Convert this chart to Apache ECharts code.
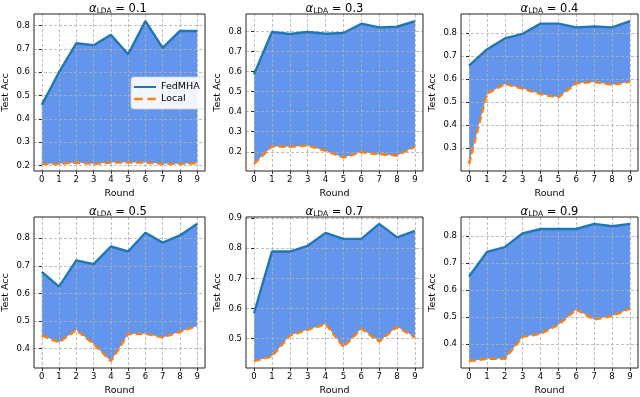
<!DOCTYPE html>
<html>
<head>
<meta charset="utf-8">
<script src="https://cdn.jsdelivr.net/npm/echarts@6/dist/echarts.min.js"></script>
<style>
  html, body { margin: 0; padding: 0; background: #fff; }
  #chart { width: 640px; height: 397px; }
</style>
</head>
<body>
<div id="chart"></div>
<script>
// rounds on the x axis, tick labels too
const rounds = [0, 1, 2, 3, 4, 5, 6, 7, 8, 9]
const alphas = ['0.1', '0.3', '0.4', '0.5', '0.7', '0.9']

// test accuracy
const fedmha01 = [0.460, 0.600, 0.724, 0.716, 0.760, 0.677, 0.819, 0.704, 0.777, 0.777]
const local01 = [0.207, 0.207, 0.213, 0.207, 0.213, 0.213, 0.213, 0.207, 0.207, 0.210]
const fedmha03 = [0.586, 0.797, 0.787, 0.797, 0.788, 0.792, 0.838, 0.820, 0.823, 0.851]
const local03 = [0.140, 0.227, 0.225, 0.231, 0.205, 0.172, 0.198, 0.188, 0.182, 0.225]
const fedmha04 = [0.659, 0.729, 0.777, 0.797, 0.841, 0.841, 0.825, 0.829, 0.825, 0.852]
const local04 = [0.232, 0.537, 0.579, 0.559, 0.535, 0.521, 0.582, 0.588, 0.576, 0.588]
const fedmha05 = [0.678, 0.625, 0.720, 0.706, 0.770, 0.752, 0.820, 0.784, 0.810, 0.852]
const local05 = [0.448, 0.423, 0.468, 0.417, 0.355, 0.453, 0.454, 0.441, 0.461, 0.482]
const fedmha07 = [0.584, 0.789, 0.789, 0.808, 0.851, 0.831, 0.831, 0.881, 0.836, 0.858]
const local07 = [0.425, 0.441, 0.510, 0.529, 0.548, 0.472, 0.533, 0.490, 0.539, 0.504]
const fedmha09 = [0.650, 0.741, 0.759, 0.810, 0.826, 0.826, 0.826, 0.845, 0.836, 0.845]
const local09 = [0.337, 0.346, 0.346, 0.427, 0.438, 0.472, 0.528, 0.491, 0.504, 0.531]

// y tick labels per panel
const yTicks01 = [0.2, 0.3, 0.4, 0.5, 0.6, 0.7, 0.8]
const yTicks03 = [0.2, 0.3, 0.4, 0.5, 0.6, 0.7, 0.8]
const yTicks04 = [0.3, 0.4, 0.5, 0.6, 0.7, 0.8]
const yTicks05 = [0.4, 0.5, 0.6, 0.7, 0.8]
const yTicks07 = [0.5, 0.6, 0.7, 0.8, 0.9]
const yTicks09 = [0.4, 0.5, 0.6, 0.7, 0.8]

const fedList = [fedmha01, fedmha03, fedmha04, fedmha05, fedmha07, fedmha09]
const localList = [local01, local03, local04, local05, local07, local09]
const tickList = [yTicks01, yTicks03, yTicks04, yTicks05, yTicks07, yTicks09]

const FONT = 'DejaVu Sans'
const BLUE = '#1f77b4'
const ORANGE = '#ff7f0e'
const FILL = '#6495ed'

// panel boxes in px: left, top, width, height
const colLeft = [31, 246, 461]
const colWidth = [174, 177, 177]
const rowTop = [14, 217]
const rowHeight = [157, 155]

const chart = echarts.init(document.getElementById('chart'), null, { renderer: 'canvas' })

const grid = []
const xAxis = []
const yAxis = []
const series = []
const title = []

for (let i = 0; i < 6; i++) {
  const col = i % 3
  const row = Math.floor(i / 3)
  const fed = fedList[i]
  const loc = localList[i]
  const all = fed.concat(loc)
  const lo = Math.min(...all)
  const hi = Math.max(...all)
  const pad = (hi - lo) * 0.05 // same margin as matplotlib

  grid.push({
    left: colLeft[col],
    top: rowTop[row],
    width: colWidth[col],
    height: rowHeight[row],
    show: true,
    z: 6,
    borderColor: '#222',
    borderWidth: 1,
    backgroundColor: 'transparent'
  })

  xAxis.push({
    type: 'value',
    gridIndex: i,
    min: -0.45,
    max: 9.45,
    z: 3,
    name: 'Round',
    nameLocation: 'middle',
    nameGap: 18,
    nameTextStyle: { fontFamily: FONT, fontSize: 9.5, color: '#000' },
    axisLine: { show: false },
    axisTick: { show: true, length: 3, inside: false, customValues: rounds, lineStyle: { color: '#000', width: 0.8 } },
    axisLabel: { customValues: rounds, fontFamily: FONT, fontSize: 8.5, color: '#000', margin: 4 },
    splitLine: { show: true, lineStyle: { color: '#b0b0b0', type: [3, 2], width: 0.8 } }
  })

  yAxis.push({
    type: 'value',
    gridIndex: i,
    min: lo - pad,
    max: hi + pad,
    z: 3,
    name: 'Test Acc',
    nameLocation: 'middle',
    nameGap: 23,
    nameRotate: 90,
    nameTextStyle: { fontFamily: FONT, fontSize: 9.5, color: '#000' },
    axisLine: { show: false },
    axisTick: { show: true, length: 3, customValues: tickList[i], lineStyle: { color: '#000', width: 0.8 } },
    axisLabel: {
      customValues: tickList[i],
      fontFamily: FONT, fontSize: 8.5, color: '#000', margin: 4,
      formatter: v => v.toFixed(1)
    },
    splitLine: { show: true, lineStyle: { color: '#b0b0b0', type: [3, 2], width: 0.8 } }
  })

  // blue fill under FedMHA, then white fill under Local: leaves the band between
  series.push({
    name: 'fillTop' + i,
    type: 'line',
    xAxisIndex: i,
    yAxisIndex: i,
    symbol: 'none',
    silent: true,
    z: 1,
    lineStyle: { opacity: 0 },
    areaStyle: { color: FILL, opacity: 1, origin: 'start' },
    data: rounds.map((r, k) => [r, fed[k]])
  })
  series.push({
    name: 'fillLow' + i,
    type: 'line',
    xAxisIndex: i,
    yAxisIndex: i,
    symbol: 'none',
    silent: true,
    z: 2,
    lineStyle: { opacity: 0 },
    areaStyle: { color: '#fff', opacity: 1, origin: 'start' },
    data: rounds.map((r, k) => [r, loc[k]])
  })
  series.push({
    name: 'FedMHA',
    type: 'line',
    xAxisIndex: i,
    yAxisIndex: i,
    symbol: 'none',
    z: 5,
    lineStyle: { color: BLUE, width: 2.4 },
    itemStyle: { color: BLUE },
    data: rounds.map((r, k) => [r, fed[k]])
  })
  series.push({
    name: 'Local',
    type: 'line',
    xAxisIndex: i,
    yAxisIndex: i,
    symbol: 'none',
    z: 5,
    lineStyle: { color: ORANGE, width: 2.4, type: [7, 3.5] },
    itemStyle: { color: ORANGE },
    data: rounds.map((r, k) => [r, loc[k]])
  })

  title.push({
    text: '{a|α}{s|LDA}{t| = ' + alphas[i] + '}',
    left: colLeft[col] + colWidth[col] / 2,
    top: rowTop[row] - 11,
    textAlign: 'center',
    padding: 0,
    textStyle: {
      fontWeight: 'normal',
      rich: {
        a: { fontFamily: FONT, fontSize: 11.5, fontStyle: 'italic', fontWeight: 'normal', color: '#000', lineHeight: 12 },
        s: { fontFamily: FONT, fontSize: 7.5, fontWeight: 'normal', color: '#000', verticalAlign: 'bottom', lineHeight: 8 },
        t: { fontFamily: FONT, fontSize: 11.5, fontWeight: 'normal', color: '#000', lineHeight: 12 }
      }
    }
  })
}

chart.setOption({
  animation: false,
  title: title,
  legend: {
    data: [
      { name: 'FedMHA', icon: 'path://M0,0H22V2H0Z', itemStyle: { color: BLUE } },
      { name: 'Local', icon: 'path://M0,0H7V2H0Z M11,0H18V2H11Z', itemStyle: { color: ORANGE } }
    ],
    orient: 'vertical',
    left: 131,
    top: 77,
    padding: [5, 6, 5, 3],
    itemGap: 2,
    itemWidth: 22,
    itemHeight: 2.4,
    backgroundColor: 'rgba(255,255,255,0.9)',
    borderColor: '#d0d0d0',
    borderWidth: 0.8,
    borderRadius: 3,
    selectedMode: false,
    textStyle: { fontFamily: FONT, fontSize: 9.5, color: '#000', lineHeight: 10 }
  },
  grid: grid,
  xAxis: xAxis,
  yAxis: yAxis,
  series: series
})
</script>
</body>
</html>
